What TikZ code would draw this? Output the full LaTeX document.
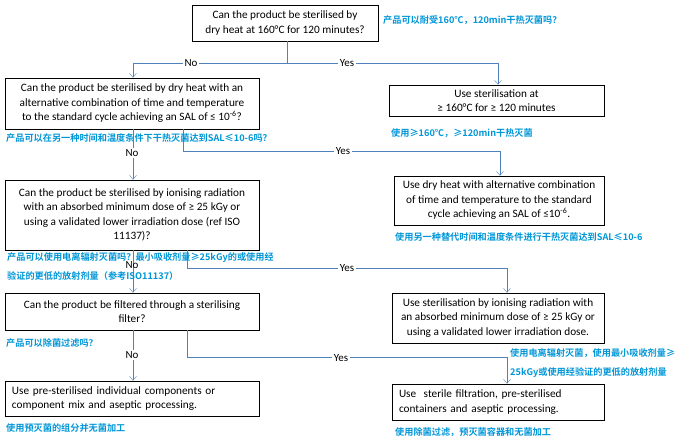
\documentclass[tikz,border=0pt]{standalone}
\usepackage{fontspec}
\setmainfont{Carlito}
\newfontfamily\cjk{Noto Sans CJK SC}[BoldFont={Noto Sans CJK SC Bold}]
\usetikzlibrary{arrows.meta}
\definecolor{ln}{RGB}{79,129,189}
\definecolor{cn}{RGB}{0,150,215}
\begin{document}
\begin{tikzpicture}[x=1bp,y=-1bp,
  box/.style={draw,thick,inner sep=2pt,align=center,font=\fontsize{11.3}{14.5}\selectfont},
  lbl/.style={fill=white,inner sep=1.5pt,font=\fontsize{11}{12}\selectfont},
  zh/.style={anchor=west,text=cn,inner sep=0pt,font=\cjk\bfseries\fontsize{9.2}{19}\selectfont,align=left},
  con/.style={ln,-{Straight Barb[length=4pt,width=7pt]}}]
\useasboundingbox (0,0) rectangle (680,444);
\node[box,minimum width=186bp,minimum height=36bp] (q1) at (285,23) {Can the product be sterilised by\\dry heat at 160\textdegree C for 120 minutes?};
\node[box,minimum width=254bp,minimum height=51bp] (q2) at (132,103.5) {Can the product be sterilised by dry heat with an\\alternative combination of time and temperature\\to the standard cycle achieving an SAL of ≤ 10\textsuperscript{-6}?};
\node[box,minimum width=215bp,minimum height=31bp] (a1) at (496.5,100.5) {Use sterilisation at\\≥ 160\textdegree C for ≥ 120 minutes};
\node[box,minimum width=254bp,minimum height=70bp] (q3) at (132,215) {Can the product be sterilised by ionising radiation\\with an absorbed minimum dose of ≥ 25 kGy or\\using a validated lower irradiation dose (ref ISO\\11137)?};
\node[box,minimum width=210bp,minimum height=49bp] (a2) at (499,200.5) {Use dry heat with alternative combination\\of time and temperature to the standard\\cycle achieving an SAL of ≤10\textsuperscript{-6}.};
\node[box,minimum width=254bp,minimum height=37bp] (q4) at (132,311.5) {Can the product be filtered through a sterilising\\filter?};
\node[box,minimum width=212bp,minimum height=50bp] (a3) at (498,318) {Use sterilisation by ionising radiation with\\an absorbed minimum dose of ≥ 25 kGy or\\using a validated lower irradiation dose.};
\node[box,minimum width=254bp,minimum height=35bp,align=left,text width=240bp] (q5) at (132,398.5) {Use pre-sterilised individual components or\\component mix and aseptic processing.};
\node[box,minimum width=212bp,minimum height=36bp,align=left,text width=198bp] (a4) at (498,402) {Use\ \ sterile filtration, pre-sterilised\\containers and aseptic processing.};
% connectors
\draw[con] (287,41) |- (133,63) -- (q2.north -| 133,0);
\draw[con] (287,63) -| (a1.north -| 498,0);
\node[lbl] (n1) at (191,63) {No};
\node[lbl] (y1) at (347,63) {Yes};
\draw[con] (133,129) -- (q3.north -| 133,0);
\draw[con] (183,129) |- (500,151) -- (a2.north -| 500,0);
\node[lbl] (n2) at (132,153) {No};
\node[lbl] (y2) at (343,151) {Yes};
\draw[con] (133,250) -- (q4.north -| 133,0);
\draw[con] (187,250) |- (507,268) -- (a3.north -| 507,0);
\node[lbl,fill=none] (n3) at (132,265) {No};
\node[lbl] (y3) at (347,268) {Yes};
\draw[con] (133,330) -- (q5.north -| 133,0);
\draw[con] (187,330) |- (507,357) -- (a4.north -| 507,0);
\node[lbl] (n4) at (132,355) {No};
\node[lbl] (y4) at (341,358) {Yes};
% chinese
\node[zh] (c1) at (383,20) {产品可以耐受160℃，120min干热灭菌吗？};
\node[zh] (c2) at (391,133) {使用≥160℃，≥120min干热灭菌};
\node[zh] (c3) at (6,138) {产品可以在另一种时间和温度条件下干热灭菌达到SAL≤10-6吗？};
\node[zh] (c4) at (395,237) {使用另一种替代时间和温度条件进行干热灭菌达到SAL≤10-6};
\node[zh] (c5) at (7,266.5) {产品可以使用电离辐射灭菌吗？最小吸收剂量≥25kGy的或使用经\\验证的更低的放射剂量（参考ISO11137）};
\node[zh] (c6) at (6,343) {产品可以除菌过滤吗？};
\node[zh] (c7) at (510,363) {使用电离辐射灭菌，使用最小吸收剂量≥\\25kGy或使用经验证的更低的放射剂量};
\node[zh] (c8) at (6,428) {使用预灭菌的组分并无菌加工};
\node[zh] (c9) at (395,432) {使用除菌过滤，预灭菌容器和无菌加工};
\end{tikzpicture}
\end{document}
